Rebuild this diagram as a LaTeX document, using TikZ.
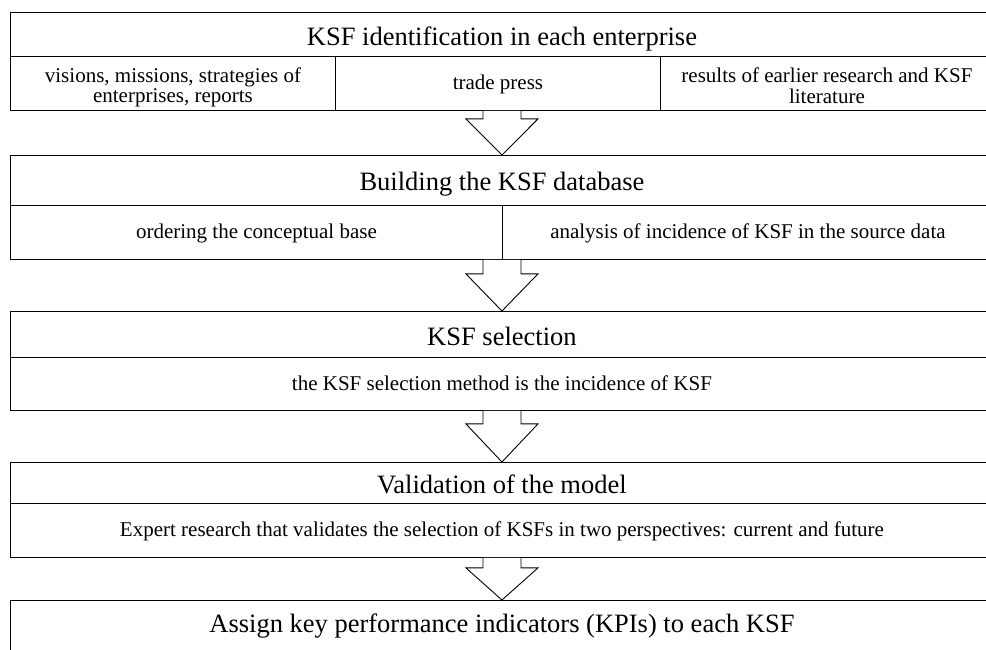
\documentclass[tikz,border=0pt]{standalone}
\usepackage{fontspec}
\setmainfont{Liberation Serif}
\usetikzlibrary{calc}
\tikzset{
  cell/.style={draw, line width=0.9pt, inner sep=0pt, anchor=north west},
  headtxt/.style={font=\fontsize{26.5}{30}\selectfont, inner sep=0pt, anchor=base},
  subtxt/.style={font=\fontsize{21}{20}\selectfont, inner sep=0pt, anchor=base},
  blockarr/.style={draw, fill=white, line width=0.9pt, line join=miter},
}
\newcommand\twoline[2]{\begin{tabular}[t]{@{}c@{}}#1\\#2\end{tabular}}
% #1 start coordinate (box bottom), #2 target node (tip at north), #3 stem length
\newcommand\downarr[3]{%
  \draw[blockarr] let \p1=(#1), \p2=(#2.north) in
    (\x1-19pt,\y1) -- (\x1-19pt,\y1-#3pt) -- (\x1-36pt,\y1-#3pt) --
    (\x1,\y2) -- (\x1+36pt,\y1-#3pt) -- (\x1+19pt,\y1-#3pt) -- (\x1+19pt,\y1);}
\begin{document}
\begin{tikzpicture}[x=1pt,y=-1pt]
\useasboundingbox (0,0) rectangle (986,649);
\clip (0,0) rectangle (986,649);

% Box 1
\node[cell, minimum width=983pt, minimum height=44pt] (h1) at (10,12) {};
\node[cell, minimum width=325pt, minimum height=54pt] (c11) at (10,56) {};
\node[cell, minimum width=325pt, minimum height=54pt] (c12) at (335,56) {};
\node[cell, minimum width=333pt, minimum height=54pt] (c13) at (660,56) {};
\node[headtxt] (t1) at ($(h1.center)+(0,11)$) {KSF identification in each enterprise};
\node[subtxt] (t11) at ($(c11.center)+(0,-1)$) {\twoline{visions, missions, strategies of}{enterprises, reports}};
\node[subtxt] (t12) at ($(c12.center)+(0,6.5)$) {trade press};
\node[subtxt] (t13) at ($(c13.center)+(0,-1)$) {\twoline{results of earlier research and KSF}{literature}};

% Box 2
\node[cell, minimum width=983pt, minimum height=50pt] (h2) at (10,155) {};
\node[cell, minimum width=492pt, minimum height=54pt] (c21) at (10,205) {};
\node[cell, minimum width=491pt, minimum height=54pt] (c22) at (502,205) {};
\node[headtxt] (t2) at ($(h2.center)+(0,10.5)$) {Building the KSF database};
\node[subtxt] (t21) at ($(c21.center)+(0,6.5)$) {ordering the conceptual base};
\node[subtxt] (t22) at ($(c22.center)+(0,6.5)$) {analysis of incidence of KSF in the source data};

% Box 3
\node[cell, minimum width=983pt, minimum height=46pt] (h3) at (10,311) {};
\node[cell, minimum width=983pt, minimum height=53pt] (c31) at (10,357) {};
\node[headtxt] (t3) at ($(h3.center)+(0,11)$) {KSF selection};
\node[subtxt] (t31) at ($(c31.center)+(0,6.5)$) {the KSF selection method is the incidence of KSF};

% Box 4
\node[cell, minimum width=983pt, minimum height=41pt] (h4) at (10,462) {};
\node[cell, minimum width=983pt, minimum height=54pt] (c41) at (10,503) {};
\node[headtxt] (t4) at ($(h4.center)+(0,11)$) {Validation of the model};
\node[subtxt] (t41) at ($(c41.center)+(0,6.5)$) {Expert research that validates the selection of KSFs in two perspectives: current and future};

% Box 5 (cut off at the bottom)
\node[cell, minimum width=983pt, minimum height=90pt] (h5) at (10,600) {};
\node[headtxt] (t5) at ($(h5.north)+(0,32)$) {Assign key performance indicators (KPIs) to each KSF};

% Arrow start points
\coordinate (s1) at (h1.center |- c12.south);
\coordinate (s2) at (h2.center |- c21.south);
\coordinate (s3) at (h3.center |- c31.south);
\coordinate (s4) at (h4.center |- c41.south);

\downarr{s1}{h2}{8}
\downarr{s2}{h3}{14}
\downarr{s3}{h4}{13}
\downarr{s4}{h5}{10}
\end{tikzpicture}
\end{document}
